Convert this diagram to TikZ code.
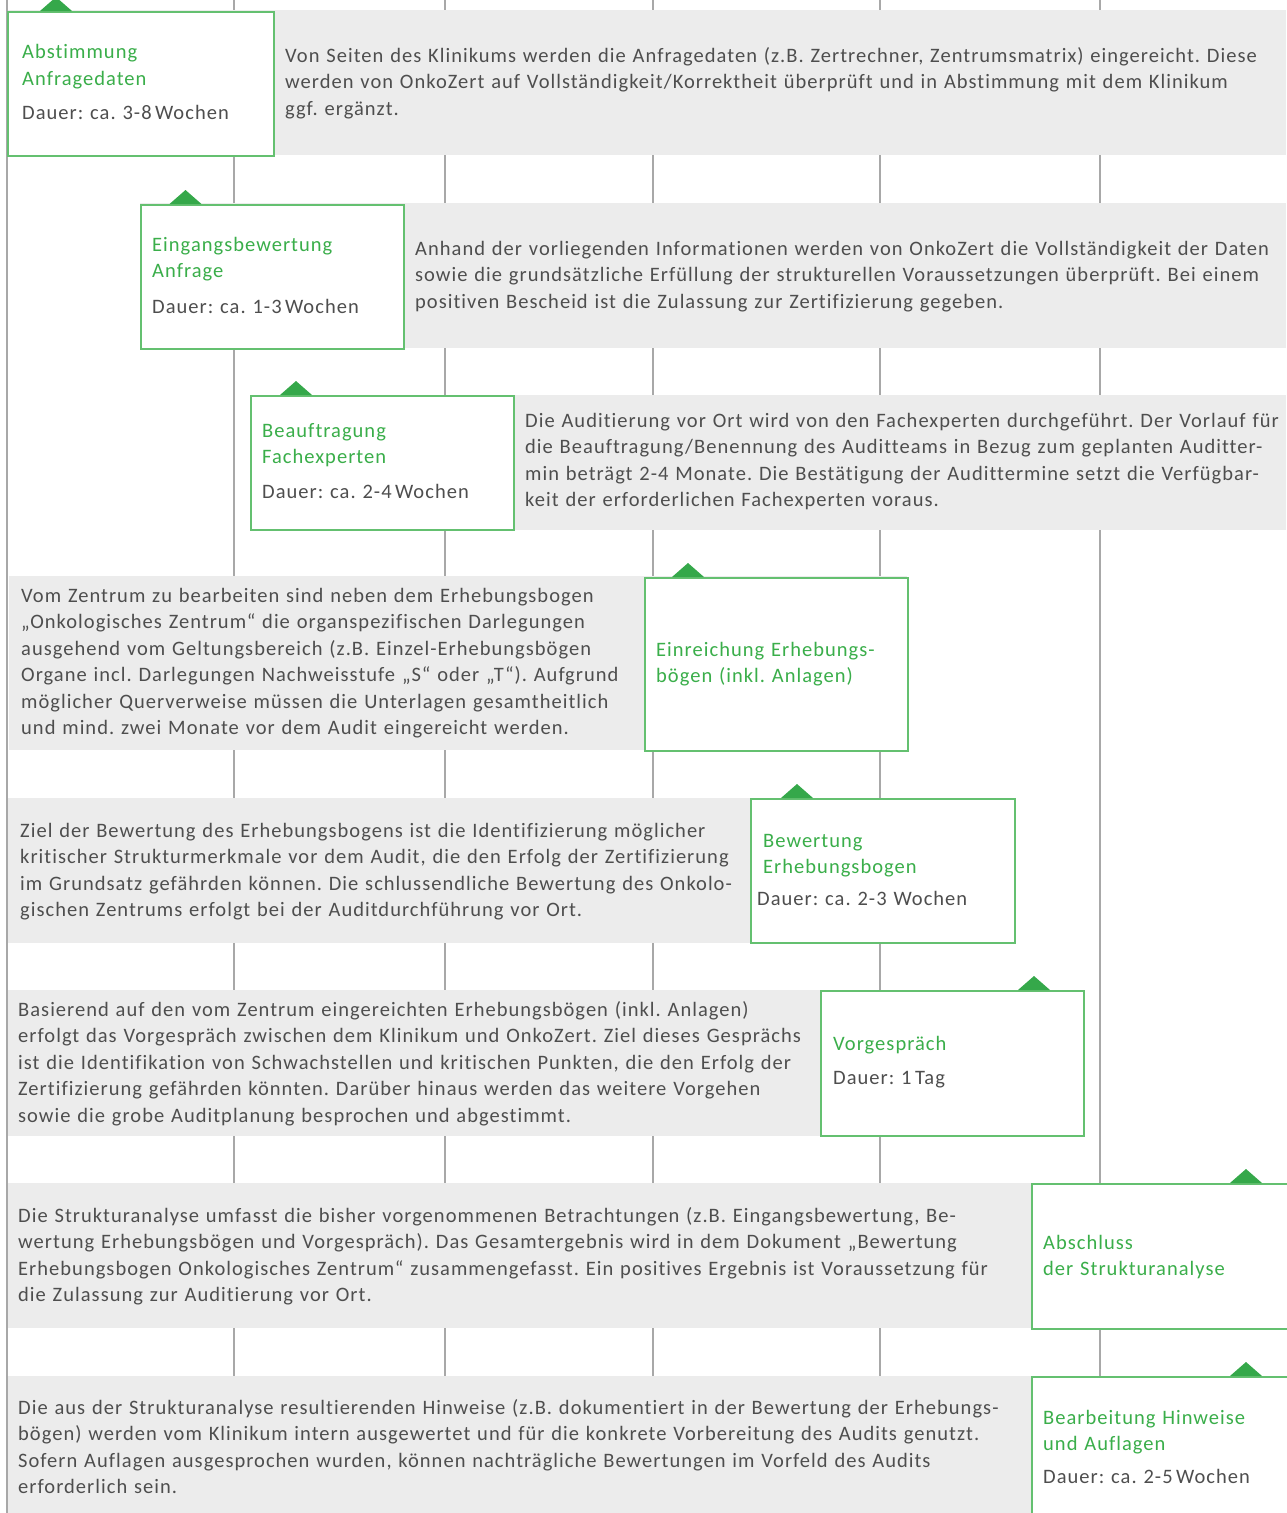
\documentclass[tikz,border=0pt]{standalone}
\usepackage{fontspec}
\setmainfont{Carlito}[LetterSpace=5, Ligatures=CommonOff]
\usepackage{xcolor}
\usetikzlibrary{calc,positioning}
\definecolor{bandgray}{HTML}{ECECEC}
\definecolor{rulegray}{HTML}{A8A8A8}
\definecolor{boxgreen}{RGB}{100,192,112}
\definecolor{tipgreen}{RGB}{53,168,74}
\definecolor{headgreen}{RGB}{58,174,74}
\definecolor{textgray}{RGB}{78,78,78}
\frenchspacing

\begin{document}
\begin{tikzpicture}
  [
    x=1pt, y=-1pt,
    Rule/.style={draw=rulegray, line width=2pt},
    Band/.style={fill=bandgray},
    Box/.style={rectangle, draw=boxgreen, fill=white, line width=1.5pt, anchor=north west, inner sep=0pt},
    Tip/.style={fill=tipgreen},
    Head/.style={anchor=base west, inner sep=0pt, text width=320pt, align=left, text=headgreen, font=\fontsize{20.5}{26.5}\selectfont},
    Info/.style={Head, text=textgray},
    Body/.style={Info, text width=1000pt}
  ]
  \useasboundingbox (0,0) rectangle (1286,1513);

  % Lines
  \draw[Rule] (7,0) -- (7,1513);
  \draw[Rule] (234,0) -- (234,1513);
  \draw[Rule] (445,0) -- (445,1513);
  \draw[Rule] (653,0) -- (653,1513);
  \draw[Rule] (880,0) -- (880,1513);
  \draw[Rule] (1100,0) -- (1100,1513);

  % Bands
  \fill[Band] (8,10) rectangle (1286,155);
  \fill[Band] (140,203) rectangle (1286,348);
  \fill[Band] (250,395) rectangle (1286,530);
  \fill[Band] (9,576) rectangle (907,750);
  \fill[Band] (8,798) rectangle (1014,943);
  \fill[Band] (8,990) rectangle (1083,1136);
  \fill[Band] (8,1183) rectangle (1286,1328);
  \fill[Band] (8,1376) rectangle (1286,1513);

  % Boxes
  \node[Box, minimum width=266, minimum height=144] (b1) at (7,11) {};
  \node[Box, minimum width=263, minimum height=144] (b2) at (140,204) {};
  \node[Box, minimum width=263, minimum height=134] (b3) at (250,395) {};
  \node[Box, minimum width=263, minimum height=173] (b4) at (644,577) {};
  \node[Box, minimum width=264, minimum height=144] (b5) at (750,798) {};
  \node[Box, minimum width=263, minimum height=145] (b6) at (820,990) {};
  \node[Box, minimum width=270, minimum height=145] (b7) at (1031,1183) {};
  \node[Box, minimum width=270, minimum height=150] (b8) at (1031,1376) {};

  % Tips
  \fill[Tip] ($(b1.north west)+(33,0)$) -- ++(16,-14) -- ++(16,14) -- cycle;
  \fill[Tip] ($(b2.north west)+(29.5,0)$) -- ++(16,-14) -- ++(16,14) -- cycle;
  \fill[Tip] ($(b3.north west)+(30,0)$) -- ++(16,-14) -- ++(16,14) -- cycle;
  \fill[Tip] ($(b4.north west)+(28,0)$) -- ++(16,-14) -- ++(16,14) -- cycle;
  \fill[Tip] ($(b5.north west)+(31,0)$) -- ++(16,-14) -- ++(16,14) -- cycle;
  \fill[Tip] ($(b6.north west)+(198,0)$) -- ++(16,-14) -- ++(16,14) -- cycle;
  \fill[Tip] ($(b7.north west)+(199,0)$) -- ++(16,-14) -- ++(16,14) -- cycle;
  \fill[Tip] ($(b8.north west)+(199,0)$) -- ++(16,-14) -- ++(16,14) -- cycle;

  % Box texts
  \node[Head] (h1) at (22,58.5) {Abstimmung\\Anfragedaten};
  \node[Info] (d1) at (22,119) {Dauer: ca. 3-8\,Wochen};
  \node[Head] (h2) at (152,251) {Eingangsbewertung\\Anfrage};
  \node[Info] (d2) at (152,313) {Dauer: ca. 1-3\,Wochen};
  \node[Head] (h3) at (262,437) {Beauftragung\\Fachexperten};
  \node[Info] (d3) at (262,498) {Dauer: ca. 2-4\,Wochen};
  \node[Head] (h4) at (656,656) {Einreichung Erhebungs-\\bögen (inkl. Anlagen)};
  \node[Head] (h5) at (763,847) {Bewertung\\Erhebungsbogen};
  \node[Info] (d5) at (757,905) {Dauer: ca. 2-3 Wochen};
  \node[Head] (h6) at (833,1050) {Vorgespräch};
  \node[Info] (d6) at (833,1084) {Dauer: 1\,Tag};
  \node[Head] (h7) at (1043,1249) {Abschluss\\der Strukturanalyse};
  \node[Head] (h8) at (1043,1424) {Bearbeitung Hinweise\\und Auflagen};
  \node[Info] (d8) at (1043,1483) {Dauer: ca. 2-5\,Wochen};

  % Band texts
  \node[Body] (t1) at (285,62) {Von Seiten des Klinikums werden die Anfragedaten (z.B. Zertrechner, Zentrumsmatrix) eingereicht. Diese\\
    werden von OnkoZert auf Vollständigkeit/Korrektheit überprüft und in Abstimmung mit dem Klinikum\\
    ggf. ergänzt.};
  \node[Body] (t2) at (415,255) {Anhand der vorliegenden Informationen werden von OnkoZert die Vollständigkeit der Daten\\
    sowie die grundsätzliche Erfüllung der strukturellen Voraussetzungen überprüft. Bei einem\\
    positiven Bescheid ist die Zulassung zur Zertifizierung gegeben.};
  \node[Body] (t3) at (525,427) {Die Auditierung vor Ort wird von den Fachexperten durchgeführt. Der Vorlauf für\\
    die Beauftragung/Benennung des Auditteams in Bezug zum geplanten Auditter-\\
    min beträgt 2-4 Monate. Die Bestätigung der Audittermine setzt die Verfügbar-\\
    keit der erforderlichen Fachexperten voraus.};
  \node[Body] (t4) at (21,602) {Vom Zentrum zu bearbeiten sind neben dem Erhebungsbogen\\
    „Onkologisches Zentrum“ die organspezifischen Darlegungen\\
    ausgehend vom Geltungsbereich (z.B. Einzel-Erhebungsbögen\\
    Organe incl. Darlegungen Nachweisstufe „S“ oder „T“). Aufgrund\\
    möglicher Querverweise müssen die Unterlagen gesamtheitlich\\
    und mind. zwei Monate vor dem Audit eingereicht werden.};
  \node[Body] (t5) at (20,837) {Ziel der Bewertung des Erhebungsbogens ist die Identifizierung möglicher\\
    kritischer Strukturmerkmale vor dem Audit, die den Erfolg der Zertifizierung\\
    im Grundsatz gefährden können. Die schlussendliche Bewertung des Onkolo-\\
    gischen Zentrums erfolgt bei der Auditdurchführung vor Ort.};
  \node[Body] (t6) at (18,1016) {Basierend auf den vom Zentrum eingereichten Erhebungsbögen (inkl. Anlagen)\\
    erfolgt das Vorgespräch zwischen dem Klinikum und OnkoZert. Ziel dieses Gesprächs\\
    ist die Identifikation von Schwachstellen und kritischen Punkten, die den Erfolg der\\
    Zertifizierung gefährden könnten. Darüber hinaus werden das weitere Vorgehen\\
    sowie die grobe Auditplanung besprochen und abgestimmt.};
  \node[Body] (t7) at (18,1222) {Die Strukturanalyse umfasst die bisher vorgenommenen Betrachtungen (z.B. Eingangsbewertung, Be-\\
    wertung Erhebungsbögen und Vorgespräch). Das Gesamtergebnis wird in dem Dokument „Bewertung\\
    Erhebungsbogen Onkologisches Zentrum“ zusammengefasst. Ein positives Ergebnis ist Voraussetzung für\\
    die Zulassung zur Auditierung vor Ort.};
  \node[Body] (t8) at (18,1414) {Die aus der Strukturanalyse resultierenden Hinweise (z.B. dokumentiert in der Bewertung der Erhebungs-\\
    bögen) werden vom Klinikum intern ausgewertet und für die konkrete Vorbereitung des Audits genutzt.\\
    Sofern Auflagen ausgesprochen wurden, können nachträgliche Bewertungen im Vorfeld des Audits\\
    erforderlich sein.};

\end{tikzpicture}
\end{document}
